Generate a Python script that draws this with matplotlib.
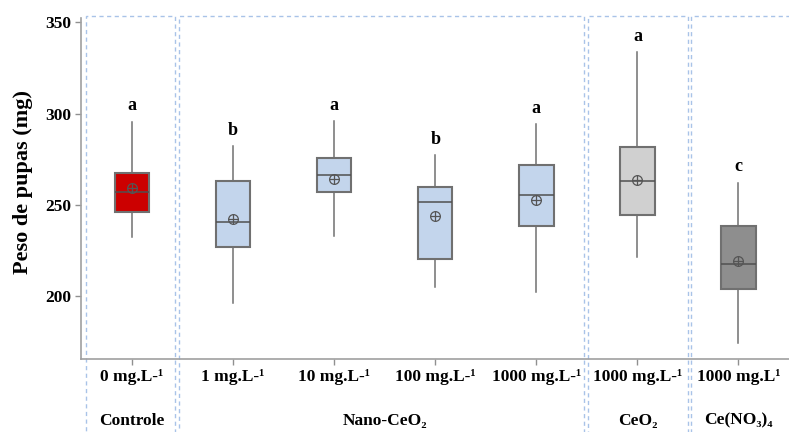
import matplotlib
matplotlib.use("Agg")
import matplotlib.pyplot as plt
from matplotlib.patches import Rectangle
import matplotlib.transforms as mtransforms

# Pupal weight (mg) per treatment: box statistics and mean
labels = ["0 mg.L-¹", "1 mg.L-¹", "10 mg.L-¹", "100 mg.L-¹",
          "1000 mg.L-¹", "1000 mg.L-¹", "1000 mg.L¹"]
whis_low = [232.6, 196.5, 233.2, 205.3, 202.5, 221.4, 174.6]
q1 = [246.2, 227.2, 257.0, 220.4, 238.3, 244.3, 203.8]
median = [257.0, 240.9, 266.4, 251.5, 255.3, 263.1, 217.5]
q3 = [267.7, 263.3, 275.9, 259.7, 271.7, 281.6, 238.7]
whis_high = [295.6, 282.3, 296.0, 277.2, 294.4, 333.6, 262.2]
means = [259.5, 242.2, 264.1, 244.2, 252.7, 263.5, 219.2]
letters = ["a", "b", "a", "b", "a", "a", "c"]
box_colors = ["#CC0000", "#C3D5EC", "#C3D5EC", "#C3D5EC", "#C3D5EC",
              "#D0D0D0", "#8E8E8E"]

# treatment groups: (name, first box, last box)
groups = [("Controle", 0, 0), ("Nano-CeO₂", 1, 4),
          ("CeO₂", 5, 5), ("Ce(NO₃)₄", 6, 6)]
# left/right edges of the dashed frame around each group (x data units)
frame_edges = [(-0.46, 0.42), (0.46, 4.47), (4.51, 5.50), (5.53, 6.8)]

FONT = ["Liberation Serif", "DejaVu Serif"]


def main():
    fig = plt.figure(figsize=(7.89, 4.32), dpi=100)
    ax = fig.add_axes([0.1027, 0.1683, 0.8973, 0.7905])

    stats = []
    for i in range(len(labels)):
        stats.append({"whislo": whis_low[i], "q1": q1[i], "med": median[i],
                      "q3": q3[i], "whishi": whis_high[i], "mean": means[i],
                      "fliers": []})
    positions = list(range(len(labels)))
    bp = ax.bxp(stats, positions=positions, widths=0.34, patch_artist=True,
                showcaps=False, showmeans=False,
                boxprops=dict(edgecolor="#707070", linewidth=1.5),
                whiskerprops=dict(color="#707070", linewidth=1.1),
                medianprops=dict(color="#505050", linewidth=1.1))
    for patch, c in zip(bp["boxes"], box_colors):
        patch.set_facecolor(c)

    # mean shown as a circle with a cross
    ax.plot(positions, means, "o", ms=7, mfc="none", mec="#555555",
            mew=0.9, zorder=4)
    ax.plot(positions, means, "+", ms=7, mec="#555555", mew=0.9, zorder=4)

    for x, top, letter in zip(positions, whis_high, letters):
        ax.text(x, top + 4, letter, ha="center", va="bottom",
                fontsize=13, fontweight="bold", family=FONT)

    ax.set_xlim(-0.505, 6.5)
    ax.set_ylim(165.5, 352.5)
    ax.set_yticks([200, 250, 300, 350])
    ax.set_xticks(positions)
    ax.set_xticklabels(labels)
    for lab in ax.get_xticklabels() + ax.get_yticklabels():
        lab.set_family(FONT)
        lab.set_fontweight("bold")
        lab.set_fontsize(12.5)
    ax.tick_params(axis="both", colors="#909090", length=4, width=1,
                   labelcolor="black", pad=3)

    for side in ["top", "right"]:
        ax.spines[side].set_visible(False)
    for side in ["left", "bottom"]:
        ax.spines[side].set_color("#A0A0A0")
        ax.spines[side].set_linewidth(1.2)

    ax.set_ylabel("Peso de pupas (mg)", fontsize=16, fontweight="bold",
                  family=FONT)
    ax.yaxis.set_label_coords(-0.068, 0.52)

    # dashed frames around each treatment group
    trans = mtransforms.blended_transform_factory(ax.transData, fig.transFigure)
    for (name, start, end), (left, right) in zip(groups, frame_edges):
        ax.add_patch(Rectangle((left, -0.05), right - left, 1.013,
                               transform=trans, fill=False,
                               edgecolor="#A9C3E8", linewidth=1.0,
                               linestyle=(0, (3, 2.5)), clip_on=False))
        xc = trans.transform(((start + end) / 2, 0))[0] / fig.bbox.width
        fig.text(xc, 0.026, name, ha="center", va="center", fontsize=12.5,
                 fontweight="bold", family=FONT)

    fig.savefig("out.png", dpi=100)


if __name__ == "__main__":
    main()
